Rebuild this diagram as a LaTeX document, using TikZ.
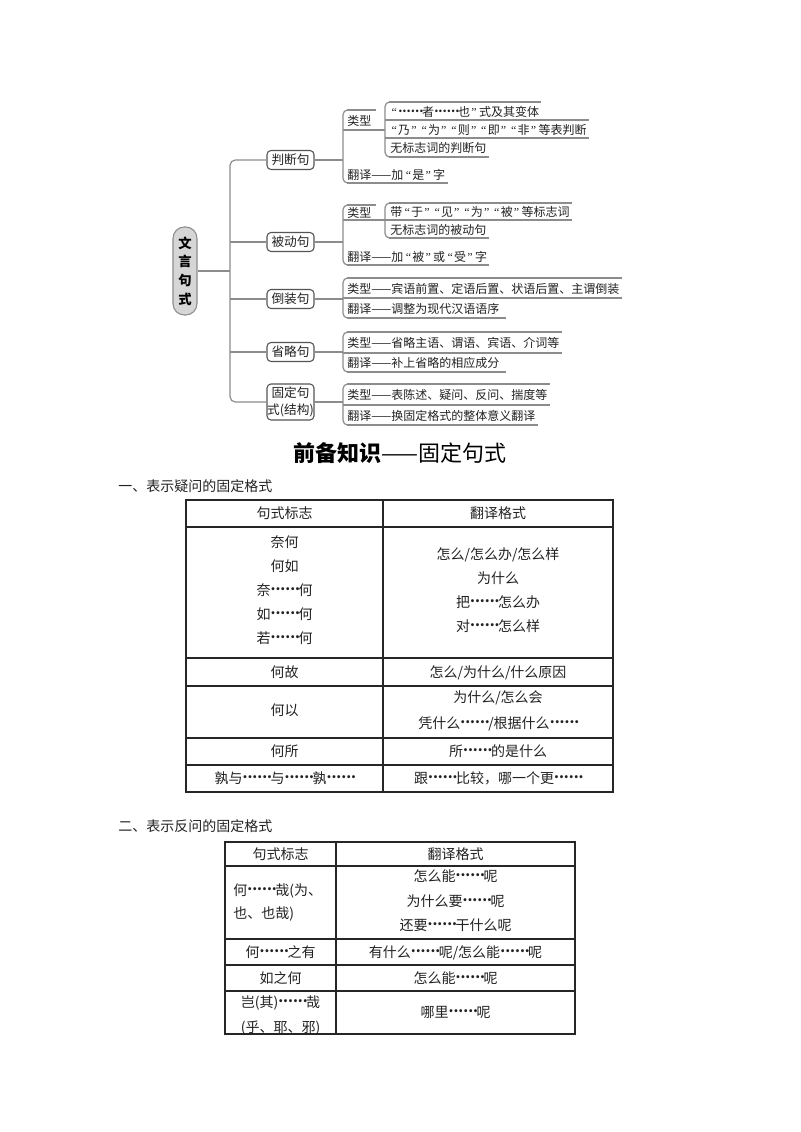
\documentclass[tikz,border=0pt]{standalone}
\usepackage{fontspec}
\setmainfont{Noto Sans CJK SC}
\newfontfamily\qf{Liberation Serif}
\newcommand\myoq{\hspace{0.2em}{\qf “}\hspace{0.1em}}
\newcommand\mycq{\hspace{0.1em}{\qf ”}\hspace{0.2em}}
\newcommand\dd{\raisebox{0.3em}{\makebox[2em]{\bfseries\hspace{0.1em}.\hfill.\hfill.\hfill.\hfill.\hfill.\hspace{-0.02em}}}}
\definecolor{lgray}{HTML}{8C8C8C}
\definecolor{bgray}{HTML}{555555}
\definecolor{tx}{HTML}{222222}
\definecolor{rootfill}{HTML}{D6D6D6}
\tikzset{
  mm/.style={draw=lgray, line width=0.9pt},
  brk/.style={mm, rounded corners=3.5pt},
  mt/.style={anchor=west, inner sep=0pt, text height=0.88em, text depth=0.12em,
             font=\fontsize{9}{11}\selectfont, text=tx},
  cat/.style={draw=bgray, line width=0.8pt, rounded corners=3pt, fill=white,
              minimum width=35.25pt, minimum height=14.25pt, inner sep=0pt,
              font=\fontsize{9.5}{12}\selectfont, text=tx},
  rootbox/.style={draw=lgray, line width=0.8pt, fill=rootfill, rounded corners=8.5pt,
              minimum width=18pt, minimum height=66pt, inner sep=0pt, align=center,
              font=\bfseries\fontsize{10}{14}\selectfont, text=black},
  cell/.style={inner sep=0pt, text height=0.88em, text depth=0.12em,
               font=\fontsize{10.5}{13}\selectfont, text=tx},
  cellw/.style={cell, anchor=west},
  tab/.style={draw=black!85, line width=0.9pt},
  sect/.style={mt, font=\fontsize{10.5}{13}\selectfont},
}
\begin{document}
\begin{tikzpicture}[x=0.75pt,y=-0.75pt]
\useasboundingbox (0,0) rectangle (800,1132);
\fill[white] (0,0) rectangle (800,1132);

% ---------------- mind map ----------------
\node[rootbox] (root) at (185,271) {文\\言\\句\\式};
\node[cat] (c1) at (290.5,160) {判断句};
\node[cat] (c2) at (290.5,242) {被动句};
\node[cat] (c3) at (290.5,299) {倒装句};
\node[cat] (c4) at (290.5,352) {省略句};
\node[cat, minimum height=27pt, align=center, font=\fontsize{9.5}{13}\selectfont] (c5) at (290.5,402) {固定句\\式(结构)};

\coordinate (trunk) at (230,271);
\draw[mm] (root.east) -- (trunk);
\draw[mm, rounded corners=4pt] (c1.west) -- (230,160) -- (230,402) -- (c5.west);
\draw[mm] (230,242) -- (c2.west);
\draw[mm] (230,299) -- (c3.west);
\draw[mm] (230,352) -- (c4.west);

\coordinate (b1) at (343,160);
\coordinate (b2) at (343,242);
\coordinate (b3) at (343,299);
\coordinate (b4) at (343,352);
\coordinate (b5) at (343,402);
\draw[mm] (c1.east) -- (b1);
\draw[mm] (c2.east) -- (b2);
\draw[mm] (c3.east) -- (b3);
\draw[mm] (c4.east) -- (b4);
\draw[mm] (c5.east) -- (b5);

% subtree 1
\node[mt] (p1l) at (347,120) {类型};
\node[mt] (p1i1) at (389,111) {\myoq\dd 者\dd 也\mycq 式及其变体};
\node[mt] (p1i2) at (389,129) {\myoq 乃\mycq\myoq 为\mycq\myoq 则\mycq\myoq 即\mycq\myoq 非\mycq 等表判断};
\node[mt] (p1i3) at (390,147.5) {无标志词的判断句};
\node[mt] (p1f) at (347,174) {翻译——加\myoq 是\mycq 字};
\draw[brk] (352,110) -- (343,110) -- (343,183) -- (352,183);
\draw[mm] (347,110) -- (p1l.east |- 0,110) -- ++(4,0);
\draw[mm] (343,130) -- (385,130);
\draw[mm] (347,183) -- (p1f.east |- 0,183) -- ++(2,0);
\draw[brk] (394,102) -- (385,102) -- (385,157) -- (394,157);
\draw[mm] (389,102) -- (p1i1.east |- 0,102) -- ++(2,0);
\draw[mm] (385,120) -- (p1i1.east |- 0,120) -- ++(2,0);
\draw[mm] (385,120) -- (p1i2.east |- 0,120) -- ++(2,0);
\draw[mm] (385,138) -- (p1i2.east |- 0,138) -- ++(2,0);
\draw[mm] (385,138) -- (p1i3.east |- 0,138) -- ++(2,0);
\draw[mm] (389,157) -- (p1i3.east |- 0,157) -- ++(2,0);

% subtree 2
\node[mt] (p2l) at (347,212) {类型};
\node[mt] (p2i1) at (390,211.5) {带\myoq 于\mycq\myoq 见\mycq\myoq 为\mycq\myoq 被\mycq 等标志词};
\node[mt] (p2i2) at (390,229) {无标志词的被动句};
\node[mt] (p2f) at (347,256) {翻译——加\myoq 被\mycq 或\myoq 受\mycq 字};
\draw[brk] (352,205) -- (343,205) -- (343,265) -- (352,265);
\draw[mm] (347,205) -- (p2l.east |- 0,205) -- ++(4,0);
\draw[mm] (343,220) -- (385,220);
\draw[mm] (347,265) -- (p2f.east |- 0,265) -- ++(2,0);
\draw[brk] (394,203) -- (385,203) -- (385,238) -- (394,238);
\draw[mm] (389,203) -- (p2i1.east |- 0,203) -- ++(2,0);
\draw[mm] (385,220) -- (p2i1.east |- 0,220) -- ++(2,0);
\draw[mm] (389,238) -- (p2i2.east |- 0,238) -- ++(2,0);

% subtree 3
\node[mt] (p3i1) at (347,288) {类型——宾语前置、定语后置、状语后置、主谓倒装};
\node[mt] (p3i2) at (347,308) {翻译——调整为现代汉语语序};
\draw[brk] (352,278) -- (343,278) -- (343,318) -- (352,318);
\draw[mm] (347,278) -- (p3i1.east |- 0,278) -- ++(2,0);
\draw[mm] (343,298) -- (p3i1.east |- 0,298) -- ++(2,0);
\draw[mm] (347,318) -- (p3i2.east |- 0,318) -- ++(6,0);

% subtree 4
\node[mt] (p4i1) at (347,342.5) {类型——省略主语、谓语、宾语、介词等};
\node[mt] (p4i2) at (347,362.5) {翻译——补上省略的相应成分};
\draw[brk] (352,332) -- (343,332) -- (343,372) -- (352,372);
\draw[mm] (347,332) -- (p4i1.east |- 0,332) -- ++(2,0);
\draw[mm] (343,353) -- (p4i1.east |- 0,353) -- ++(2,0);
\draw[mm] (347,372) -- (p4i2.east |- 0,372) -- ++(6,0);

% subtree 5
\node[mt] (p5i1) at (347,394.5) {类型——表陈述、疑问、反问、揣度等};
\node[mt] (p5i2) at (347,415) {翻译——换固定格式的整体意义翻译};
\draw[brk] (352,384) -- (343,384) -- (343,425) -- (352,425);
\draw[mm] (347,384) -- (p5i1.east |- 0,384) -- ++(2,0);
\draw[mm] (343,405) -- (p5i1.east |- 0,405) -- ++(2,0);
\draw[mm] (347,425) -- (p5i2.east |- 0,425) -- ++(2,0);

% ---------------- title ----------------
\node[inner sep=0pt, font=\fontsize{16.5}{20}\selectfont, text=black] (title) at (400,453) {\textbf{前备知识}——固定句式};
\node[sect] (s1) at (118,486) {一、表示疑问的固定格式};

% ---------------- table 1 ----------------
\draw[tab] (186,500) rectangle (613,792);
\draw[tab] (383,500) -- (383,792);
\foreach \yy in {527,658,686,738,765} \draw[tab] (186,\yy) -- (613,\yy);

\node[cell] (t1h1) at (284.5,513.5) {句式标志};
\node[cell] (t1h2) at (498,513.5) {翻译格式};
\node[cell] (t1a1) at (284.5,542) {奈何};
\node[cell] (t1a2) at (284.5,566) {何如};
\node[cell] (t1a3) at (284.5,590) {奈\dd 何};
\node[cell] (t1a4) at (284.5,614) {如\dd 何};
\node[cell] (t1a5) at (284.5,638) {若\dd 何};
\node[cell] (t1b1) at (498,554) {怎么/怎么办/怎么样};
\node[cell] (t1b2) at (498,578) {为什么};
\node[cell] (t1b3) at (498,602) {把\dd 怎么办};
\node[cell] (t1b4) at (498,626) {对\dd 怎么样};
\node[cell] (t1c1) at (284.5,672) {何故};
\node[cell] (t1c2) at (498,672) {怎么/为什么/什么原因};
\node[cell] (t1d1) at (284.5,710) {何以};
\node[cell] (t1d2) at (498,697) {为什么/怎么会};
\node[cell] (t1d3) at (498,723) {凭什么\dd/根据什么\dd};
\node[cell] (t1e1) at (284.5,751) {何所};
\node[cell] (t1e2) at (498,751) {所\dd 的是什么};
\node[cell] (t1f1) at (284.5,778) {孰与\dd 与\dd 孰\dd};
\node[cell] (t1f2) at (498,778) {跟\dd 比较，哪一个更\dd};

% ---------------- table 2 ----------------
\node[sect] (s2) at (118,826) {二、表示反问的固定格式};
\draw[tab] (225,842) rectangle (575,1034);
\draw[tab] (336,842) -- (336,1034);
\foreach \yy in {866,939,965,991} \draw[tab] (225,\yy) -- (575,\yy);

\node[cell] (t2h1) at (280.5,854) {句式标志};
\node[cell] (t2h2) at (455.5,854) {翻译格式};
\node[cellw] (t2a1) at (233,890) {何\dd 哉(为、};
\node[cellw] (t2a2) at (233,913) {也、也哉)};
\node[cell] (t2b1) at (455.5,876) {怎么能\dd 呢};
\node[cell] (t2b2) at (455.5,901) {为什么要\dd 呢};
\node[cell] (t2b3) at (455.5,925) {还要\dd 干什么呢};
\node[cell] (t2c1) at (280.5,952) {何\dd 之有};
\node[cell] (t2c2) at (455.5,952) {有什么\dd 呢/怎么能\dd 呢};
\node[cell] (t2d1) at (280.5,978) {如之何};
\node[cell] (t2d2) at (455.5,978) {怎么能\dd 呢};
\node[cell] (t2e1) at (280.5,1002) {岂(其)\dd 哉};
\node[cell] (t2e2) at (280.5,1027) {(乎、耶、邪)};
\node[cell] (t2f1) at (455.5,1012) {哪里\dd 呢};
\end{tikzpicture}
\end{document}
